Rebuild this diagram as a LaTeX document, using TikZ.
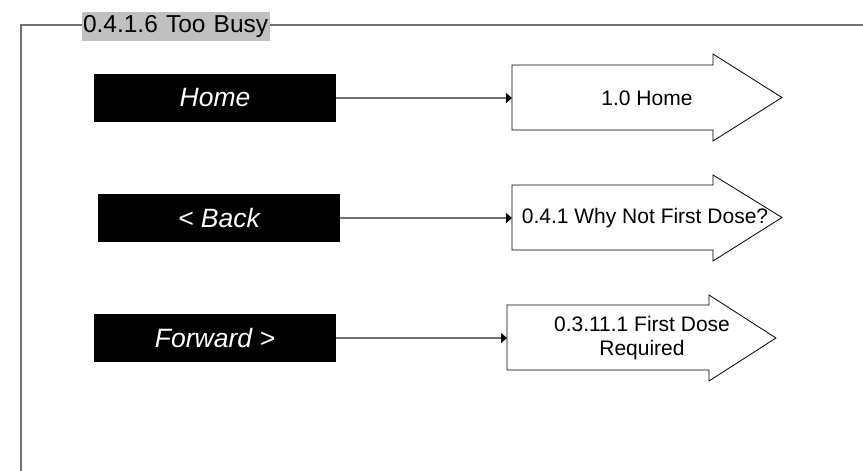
\documentclass[tikz,border=0pt]{standalone}
\usepackage{fontspec}
\setmainfont{Liberation Sans}
\usetikzlibrary{arrows.meta}
\definecolor{framegray}{HTML}{707070}
\definecolor{titlegray}{HTML}{C0C0C0}
\tikzset{
  btn/.style={fill=black, text=white, inner sep=0pt, minimum width=242pt, minimum height=48pt,
    font=\fontsize{26.5}{30}\selectfont\itshape},
  target/.style={draw=black, line width=0.8pt, fill=white},
  tlabel/.style={align=center, inner sep=0pt, font=\fontsize{21}{24}\selectfont},
  conn/.style={draw=framegray, line width=1.4pt, -{Triangle[length=6pt,width=10pt,color=black]}},
  frameline/.style={draw=framegray, line width=1.4pt}
}
\begin{document}
\begin{tikzpicture}[x=1pt,y=-1pt]
\useasboundingbox (0,0) rectangle (863,471);
% frame
\draw[frameline] (863,25) -- (21,25) -- (21,471);
\node[fill=titlegray, inner xsep=1pt, inner ysep=0pt, text width=186pt, align=left,
  minimum height=29pt, font=\fontsize{24.5}{28}\selectfont, text=black] (title) at (176,26.5) {0.4.1.6 Too Busy};
% buttons
\node[btn] (home) at (215,98) {Home};
\node[btn] (back) at (219,218) {< Back};
\node[btn] (fwd) at (215,338) {Forward >};
% target arrows
\draw[target] (512,65) -- (713,65) -- (713,54) -- (782,97.5) -- (713,141) -- (713,130) -- (512,130) -- cycle;
\coordinate (in1) at (512,98);
\node[tlabel] (t1) at (647,98) {1.0 Home};
\draw[target] (512,185) -- (713,185) -- (713,175) -- (782,217.5) -- (713,261) -- (713,250) -- (512,250) -- cycle;
\coordinate (in2) at (512,218);
\node[tlabel] (t2) at (645,218) {0.4.1 Why Not First Dose?};
\draw[target] (507,305) -- (709,305) -- (709,295) -- (776,338) -- (709,381) -- (709,370) -- (507,370) -- cycle;
\coordinate (in3) at (507,338);
\node[tlabel] (t3) at (642,338) {0.3.11.1 First Dose\\Required};
% connectors
\draw[conn] (home.east) -- (in1);
\draw[conn] (back.east) -- (in2);
\draw[conn] (fwd.east) -- (in3);
\end{tikzpicture}
\end{document}
